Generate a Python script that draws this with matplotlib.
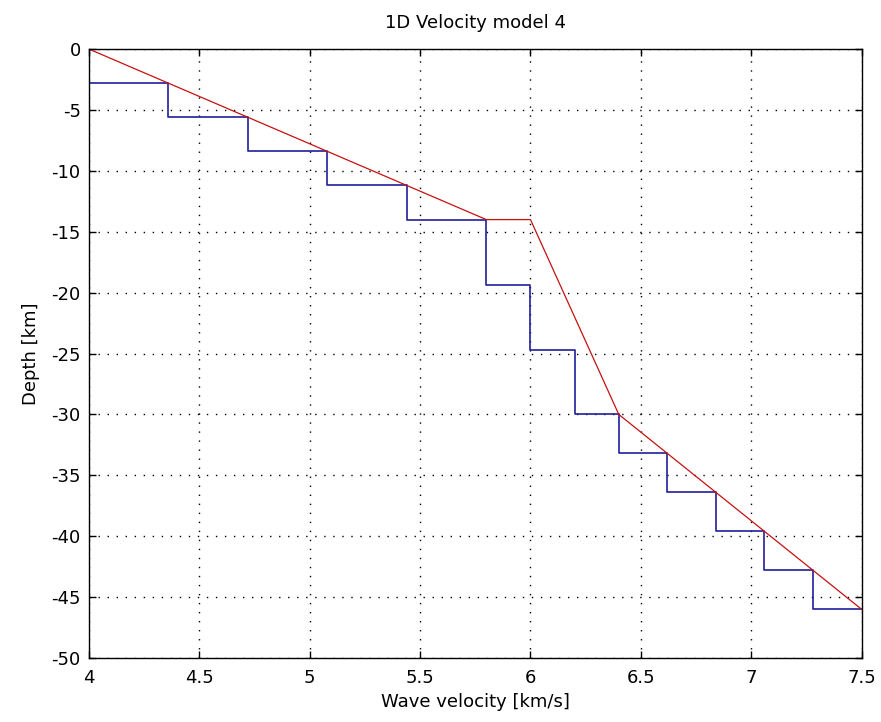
import matplotlib
matplotlib.use('Agg')
import matplotlib.pyplot as plt

# layered model (blue staircase): velocity of each layer and depth of its top interface
layer_velocity = [4.0, 4.36, 4.72, 5.08, 5.44, 5.8, 6.0, 6.2, 6.4, 6.62, 6.84, 7.06, 7.28, 7.5]
layer_depth = [-2.8, -5.6, -8.4, -11.2, -14.0, -19.33, -24.67, -30.0, -33.2, -36.4, -39.6, -42.8, -46.0, -46.0]

# reference gradient model (red line)
ref_velocity = [4.0, 5.8, 6.0, 6.4, 7.5]
ref_depth = [0.0, -14.0, -14.0, -30.0, -46.0]

xticks = [4, 4.5, 5, 5.5, 6, 6.5, 7, 7.5]
xticklabels = ['4', '4.5', '5', '5.5', '6', '6.5', '7', '7.5']
yticks = [0, -5, -10, -15, -20, -25, -30, -35, -40, -45, -50]

plt.rcParams['font.family'] = ['DejaVu Sans']
plt.rcParams['font.size'] = 13
plt.rcParams['axes.unicode_minus'] = False

fig = plt.figure(figsize=(8.81, 7.22), dpi=100)
ax = fig.add_axes([0.101, 0.0886, 0.877, 0.8434])

ax.step(layer_velocity, layer_depth, where='post', color='#1f1f9a', linewidth=1.2)
ax.plot(ref_velocity, ref_depth, color='#c81010', linewidth=0.9)

ax.set_xlim(4, 7.5)
ax.set_ylim(-50, 0)
ax.set_xticks(xticks)
ax.set_xticklabels(xticklabels)
ax.set_yticks(yticks)

# matlab style grid and box
ax.grid(True, color='black', linestyle=(0, (1, 5.5)), linewidth=1)
ax.set_axisbelow(True)
ax.tick_params(direction='in', top=True, right=True, length=5, width=1, labelsize=13)
ax.tick_params(axis='x', pad=8)
ax.tick_params(axis='y', pad=6)
for side in ['top', 'right', 'bottom', 'left']:
    ax.spines[side].set_linewidth(1)

ax.set_xlabel('Wave velocity [km/s]', fontsize=13, labelpad=4)
ax.set_ylabel('Depth [km]', fontsize=13, labelpad=8)
ax.set_title('1D Velocity model 4', fontsize=13, pad=15)

fig.savefig('out.png', dpi=100)
